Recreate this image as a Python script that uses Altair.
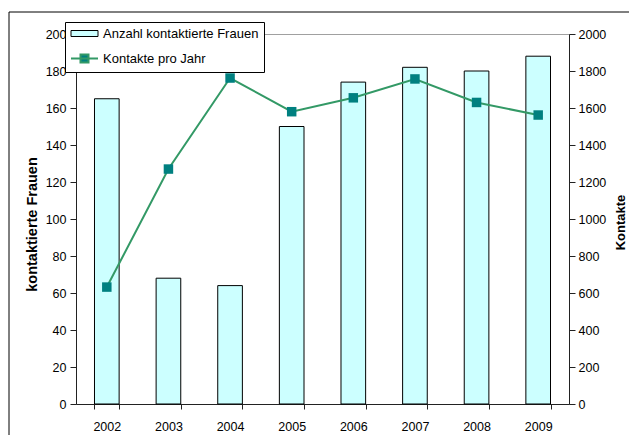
import altair as alt
import pandas as pd

# ---- data ----
years = ["2002", "2003", "2004", "2005", "2006", "2007", "2008", "2009"]
frauen = [165, 68, 64, 150, 174, 182, 180, 188]
kontakte = [632, 1270, 1762, 1580, 1655, 1757, 1630, 1562]
left_ticks = [0, 20, 40, 60, 80, 100, 120, 140, 160, 180, 200]
right_ticks = [0, 200, 400, 600, 800, 1000, 1200, 1400, 1600, 1800, 2000]
series = ["Anzahl kontaktierte Frauen", "Kontakte pro Jahr"]

df_bar = pd.DataFrame({"Jahr": years, "Wert": frauen, "Reihe": series[0]})
df_line = pd.DataFrame({"Jahr": years, "Wert": kontakte, "Reihe": series[1]})

FONT = "Liberation Sans"
W, H = 493, 370

x_enc = alt.X(
    "Jahr:N", sort=years,
    scale=alt.Scale(paddingInner=0.6, paddingOuter=0.3),
    axis=alt.Axis(title=None, tickBand="extent", labelAngle=0, tickSize=5,
                  labelPadding=11, labelFontSize=12.5),
)

is_bar = f"datum.value === '{series[0]}'"
legend = alt.Legend(
    title=None, orient="none", legendX=-11, legendY=-12,
    strokeColor="black", fillColor="white", padding=5, cornerRadius=0,
    symbolSize=100, symbolOffset=8, labelOffset=12, rowPadding=9,
    labelFont=FONT, labelFontSize=13, labelColor="black", labelLimit=400,
    symbolType=alt.ExprRef(expr=f"{is_bar} ? 'M-2.7,-0.6H2.7V0.6H-2.7Z' : 'M-2.7,0H2.7M-0.8,-0.8H0.8V0.8H-0.8Z'"),
    symbolFillColor=alt.ExprRef(expr=f"{is_bar} ? '#CCFFFF' : '#008080'"),
    symbolStrokeColor=alt.ExprRef(expr=f"{is_bar} ? '#000000' : '#339966'"),
    symbolStrokeWidth=alt.ExprRef(expr=f"{is_bar} ? 1 : 2"),
    symbolOpacity=1,
)
# the line carries the legend; its colour scale lists both series
color_enc = alt.Color("Reihe:N", scale=alt.Scale(domain=series, range=["#000000", "#339966"]),
                      legend=legend)

y_left = alt.Y("Wert:Q", scale=alt.Scale(domain=[0, 200], nice=False),
               axis=alt.Axis(orient="left", values=left_ticks, title="kontaktierte Frauen",
                             grid=False, tickSize=6, labelPadding=4, labelFontSize=12.5,
                             titleFontSize=14.5,
                             titleAngle=270, titleX=-44, titleY=190,
                             titleAlign="center", titleBaseline="middle"))
y_right = alt.Y("Wert:Q", scale=alt.Scale(domain=[0, 2000], nice=False),
                axis=alt.Axis(orient="right", values=right_ticks, title="Kontakte", format="d",
                              grid=False, tickSize=6, labelPadding=3, labelFontSize=12.5,
                              titleFontSize=13,
                              titleAngle=270, titleX=51, titleY=188,
                              titleAlign="center", titleBaseline="middle"))

border = alt.Chart(pd.DataFrame({"d": [0]})).mark_rect(
    filled=False, stroke="black", strokeWidth=1
).encode(x=alt.value(-67), x2=alt.value(W + 80), y=alt.value(-22), y2=alt.value(H + 50))

bars = alt.Chart(df_bar).mark_bar(fill="#CCFFFF", stroke="black", strokeWidth=1).encode(
    x=x_enc, y=y_left)

line = alt.Chart(df_line).mark_line(strokeWidth=2).encode(
    x=x_enc, y=y_right, color=color_enc)
points = alt.Chart(df_line).mark_square(size=90, color="#008080", opacity=1, filled=True).encode(
    x=x_enc, y=y_right)

chart = alt.layer(border, bars, alt.layer(line, points)).resolve_scale(
    y="independent"
).properties(
    width=W, height=H,
    autosize=alt.AutoSizeParams(type="none"),
    padding={"left": 68, "top": 26, "right": 60, "bottom": 31},
).configure(font=FONT).configure_view(
    stroke="#a0a0a0", strokeWidth=1
).configure_axis(
    labelFont=FONT, labelColor="black", titleFont=FONT,
    titleFontWeight="bold", titleColor="black", domainColor="#222222",
    tickColor="#222222", domainWidth=1, tickWidth=1,
)

chart.save("out.html", embed_options={"renderer": "svg", "actions": False})
